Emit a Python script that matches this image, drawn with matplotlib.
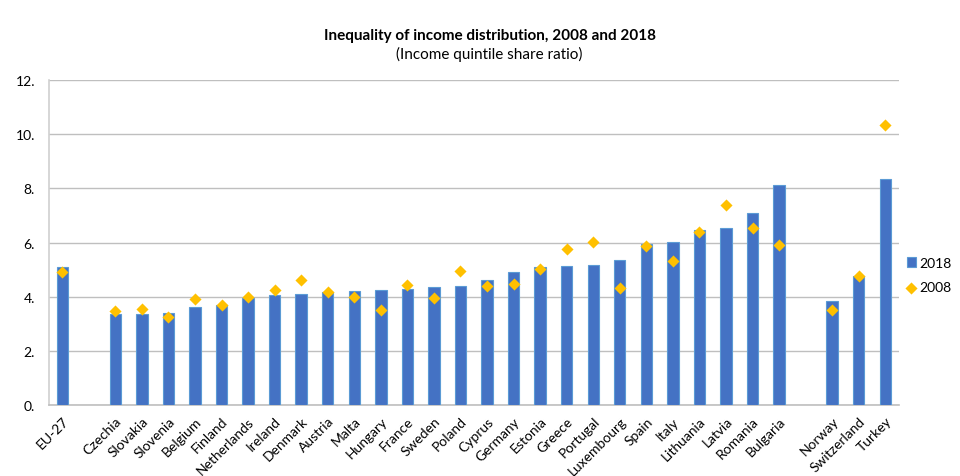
import numpy as np
import matplotlib
matplotlib.use('Agg')
import matplotlib.pyplot as plt

# categories ('' marks an empty slot between groups)
countries = ['EU-27', '',
             'Czechia', 'Slovakia', 'Slovenia', 'Belgium', 'Finland', 'Netherlands',
             'Ireland', 'Denmark', 'Austria', 'Malta', 'Hungary', 'France', 'Sweden',
             'Poland', 'Cyprus', 'Germany', 'Estonia', 'Greece', 'Portugal',
             'Luxembourg', 'Spain', 'Italy', 'Lithuania', 'Latvia', 'Romania',
             'Bulgaria', '',
             'Norway', 'Switzerland', 'Turkey']

nan = np.nan
val_2018 = [5.10, nan,
            3.35, 3.35, 3.41, 3.63, 3.70, 3.95,
            4.05, 4.10, 4.18, 4.20, 4.25, 4.30, 4.34,
            4.39, 4.60, 4.91, 5.08, 5.12, 5.17,
            5.35, 5.96, 6.02, 6.45, 6.55, 7.09,
            8.11, nan,
            3.83, 4.76, 8.36]
val_2008 = [4.92, nan,
            3.47, 3.56, 3.25, 3.90, 3.70, 3.98,
            4.25, 4.60, 4.16, 3.99, 3.51, 4.42, 3.95,
            4.96, 4.38, 4.47, 5.01, 5.75, 6.01,
            4.31, 5.87, 5.30, 6.39, 7.40, 6.54,
            5.92, nan,
            3.51, 4.76, 10.34]

yticks = [0, 2, 4, 6, 8, 10, 12]
ytick_labels = ['0.', '2.', '4.', '6.', '8.', '10.', '12.']

plt.rcParams['font.family'] = ['Lato', 'DejaVu Sans']

fig = plt.figure(figsize=(9.6, 4.77), dpi=100)
ax = fig.add_axes([0.051, 0.149, 0.885, 0.681])

x = np.arange(len(countries))
bars = ax.bar(x, val_2018, width=0.43, color='#4472C4', edgecolor='#5B9BD5',
              linewidth=0.8, label='2018', zorder=3)
pts = ax.scatter(x, val_2008, marker='D', s=38, color='#FFC000', label='2008',
                 zorder=4, linewidths=0)

ax.set_xlim(-0.5, len(countries) - 0.5)
ax.set_ylim(0, 12)
ax.set_yticks(yticks)
ax.set_yticklabels(ytick_labels, fontsize=10)
ax.set_xticks(x)
ax.set_xticklabels(countries, rotation=45, ha='right', rotation_mode='anchor',
                   fontsize=10)
ax.tick_params(axis='x', length=0, pad=7)
ax.tick_params(axis='y', length=0, pad=10)

ax.grid(axis='y', color='#BFBFBF', linewidth=1.0, zorder=0)
ax.set_axisbelow(True)
for side in ['top', 'right']:
    ax.spines[side].set_visible(False)
ax.spines['left'].set_color('#D0D0D0')
ax.spines['bottom'].set_color('#BFBFBF')
ax.spines['left'].set_linewidth(1.2)
ax.spines['bottom'].set_linewidth(1.2)

fig.text(0.51, 0.925, 'Inequality of income distribution, 2008 and 2018',
         ha='center', va='center', fontsize=11, fontweight='bold')
fig.text(0.51, 0.885, '(Income quintile share ratio)', ha='center',
         va='center', fontsize=11)

leg = ax.legend(handles=[bars, pts], loc='center left',
                bbox_to_anchor=(0.998, 0.40), frameon=False,
                fontsize=10, handlelength=0.7, handletextpad=0.2,
                labelspacing=0.9, borderaxespad=0.3)

fig.savefig('out.png', dpi=100)
